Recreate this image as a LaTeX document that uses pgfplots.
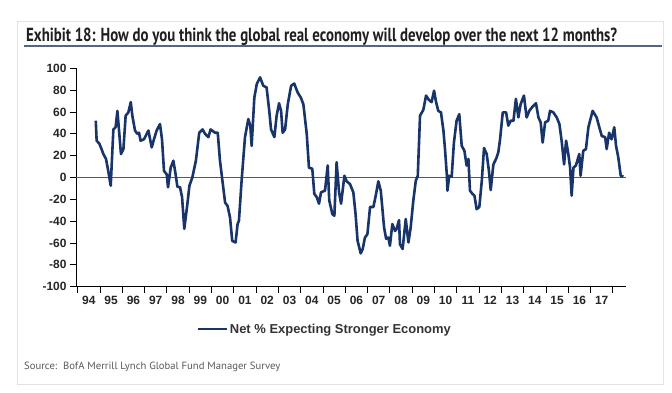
\documentclass[border=0pt]{standalone}
\usepackage{pgfplots}
\pgfplotsset{compat=1.18}
\usepackage{pgfplotstable}
\usepackage{fontspec}
\setmainfont{Liberation Sans}
\newfontfamily\ptsans{PT Sans}
\usepackage{graphicx}
\definecolor{navy}{RGB}{24,52,105}
\definecolor{rulec}{RGB}{85,100,130}

\pgfplotstableread{
t v
1994.81 52
1994.85 33.7
1994.97 31
1995.07 26
1995.15 21.5
1995.27 17
1995.37 6
1995.48 -7.5
1995.60 44
1995.70 46
1995.78 61
1995.85 44
1995.94 21.5
1996.05 26
1996.15 56.6
1996.27 59.6
1996.38 69
1996.45 56.6
1996.57 43
1996.67 40
1996.75 41
1996.82 33.7
1996.97 35
1997.17 43
1997.32 27.6
1997.42 35
1997.54 43
1997.69 49
1997.78 35
1997.87 6
1997.99 3
1998.05 -9
1998.17 9
1998.29 15.4
1998.39 3
1998.47 -8.4
1998.59 -9
1998.68 -18
1998.78 -47
1998.92 -24
1999.01 -7.5
1999.14 0
1999.30 15.4
1999.45 41
1999.60 44
1999.71 40
1999.86 37
1999.96 44
2000.16 41
2000.28 41
2000.38 15.4
2000.49 -3
2000.61 -23
2000.72 -26
2000.83 -36.5
2000.93 -58
2001.08 -59.5
2001.17 -42.6
2001.23 -39.6
2001.35 -3
2001.50 36.7
2001.65 53.5
2001.74 47.5
2001.80 29
2001.92 73
2002.03 85.6
2002.18 91.7
2002.32 84
2002.47 82.5
2002.59 61
2002.67 44
2002.82 37
2002.92 56.6
2003.03 68
2003.12 61
2003.19 41
2003.30 44
2003.42 67
2003.57 84
2003.71 86
2003.86 78
2004.01 73
2004.12 67
2004.27 40
2004.37 9
2004.52 8
2004.61 -15
2004.72 -18
2004.82 -24
2004.91 -13.6
2005.09 -12
2005.21 11
2005.28 -21
2005.42 -33.5
2005.51 -35
2005.61 14
2005.72 -13.6
2005.81 -24
2005.96 1.6
2006.06 -3.5
2006.21 -6
2006.36 -13.6
2006.46 -33.5
2006.55 -58
2006.69 -69.5
2006.78 -65.5
2006.88 -55
2006.99 -52
2007.11 -27
2007.26 -27
2007.38 -15
2007.48 -3.5
2007.59 -12
2007.74 -46
2007.83 -56
2007.93 -55
2008.00 -62.5
2008.11 -42.6
2008.23 -49
2008.30 -47
2008.41 -39
2008.45 -61
2008.57 -65.5
2008.71 -38
2008.83 -59.5
2008.93 -46
2009.05 -21
2009.16 -3
2009.25 1.6
2009.35 56.6
2009.50 62
2009.62 75
2009.75 71
2009.87 69
2009.98 79.5
2010.07 69
2010.17 61
2010.29 59.6
2010.40 43
2010.47 26
2010.55 3
2010.58 -12
2010.66 1.6
2010.77 0.7
2010.87 32
2010.99 52
2011.11 58
2011.22 29
2011.34 24.5
2011.44 11
2011.52 17
2011.59 -12
2011.70 -15
2011.79 -16.6
2011.89 -29
2012.01 -27
2012.12 -3
2012.22 27
2012.34 21.5
2012.44 6
2012.52 -11.5
2012.64 12
2012.76 17
2012.86 23
2012.94 35
2013.06 59.6
2013.21 59.6
2013.31 47.5
2013.42 52
2013.54 52
2013.65 72
2013.76 55
2013.86 67
2014.01 75
2014.13 55
2014.25 61
2014.40 65
2014.55 68
2014.66 55
2014.76 50.5
2014.85 32
2014.96 50.5
2015.10 52
2015.18 61
2015.33 59.6
2015.48 55
2015.60 49
2015.70 33.7
2015.81 12
2015.90 33.7
2016.00 21.5
2016.08 9
2016.15 -16.6
2016.23 9
2016.34 11
2016.49 21.5
2016.55 1.6
2016.67 24.5
2016.79 26
2016.90 46
2017.09 61
2017.27 55
2017.39 46
2017.50 38
2017.65 37
2017.72 26
2017.83 41
2017.94 35
2018.06 46
2018.14 29
2018.24 18.5
2018.35 1.6
2018.47 0.7
}\fmsdata

\begin{document}
\begin{tikzpicture}[x=1bp,y=1bp]
\fill[white] (0,0) rectangle (672,392);
\draw[gray!22, line width=0.8bp] (17,371) rectangle (663,8);
\node[anchor=base west, inner sep=0, text=black!88] at (26,350.5) {\resizebox{591bp}{\height}{\ptsans\bfseries\fontsize{19}{22}\selectfont Exhibit 18: How do you think the global real economy will develop over the next 12 months?}};
\draw[rulec, line width=1.6bp] (24,346) -- (662,346);
\begin{axis}[
  scale only axis, width=550bp, height=218.4bp,
  anchor=south west, at={(76bp,105.3bp)},
  xmin=1993.924, xmax=2018.587, ymin=-100, ymax=100,
  axis x line*=bottom, axis y line*=left,
  x axis line style={-}, y axis line style={-},
  axis line style={black, line width=0.9bp},
  xtick={1994,...,2018},
  xticklabels={94,95,96,97,98,99,00,01,02,03,04,05,06,07,08,09,10,11,12,13,14,15,16,17},
  x tick label as interval,
  ytick={-100,-80,-60,-40,-20,0,20,40,60,80,100},
  yticklabels={-100,-80,-60,-40,-20,0,20,40,60,80,100},
  tick align=outside, major tick length=6bp,
  tick style={black, line width=0.8bp},
  ticklabel style={font=\bfseries\fontsize{12}{14}\selectfont, text=black!85},
  legend style={at={(0.452,-0.194)}, anchor=center, draw=none, fill=none,
    font=\bfseries\fontsize{13}{15}\selectfont, text=black!80},
  legend image code/.code={\draw[#1] (0bp,0bp) -- (29bp,0bp);},
]
\draw[black!65, line width=1bp] (axis cs:1993.924,0) -- (axis cs:2018.587,0);
\addplot[navy, line width=2.6bp, line join=round, no markers] table[x=t,y=v] {\fmsdata};
\legend{Net \% Expecting Stronger Economy}
\end{axis}
\node[anchor=base west, inner sep=0, text=black!65] at (24,23) {\resizebox{256bp}{\height}{\ptsans\fontsize{10.5}{12}\selectfont Source:\ \ BofA Merrill Lynch Global Fund Manager Survey}};
\end{tikzpicture}
\end{document}
